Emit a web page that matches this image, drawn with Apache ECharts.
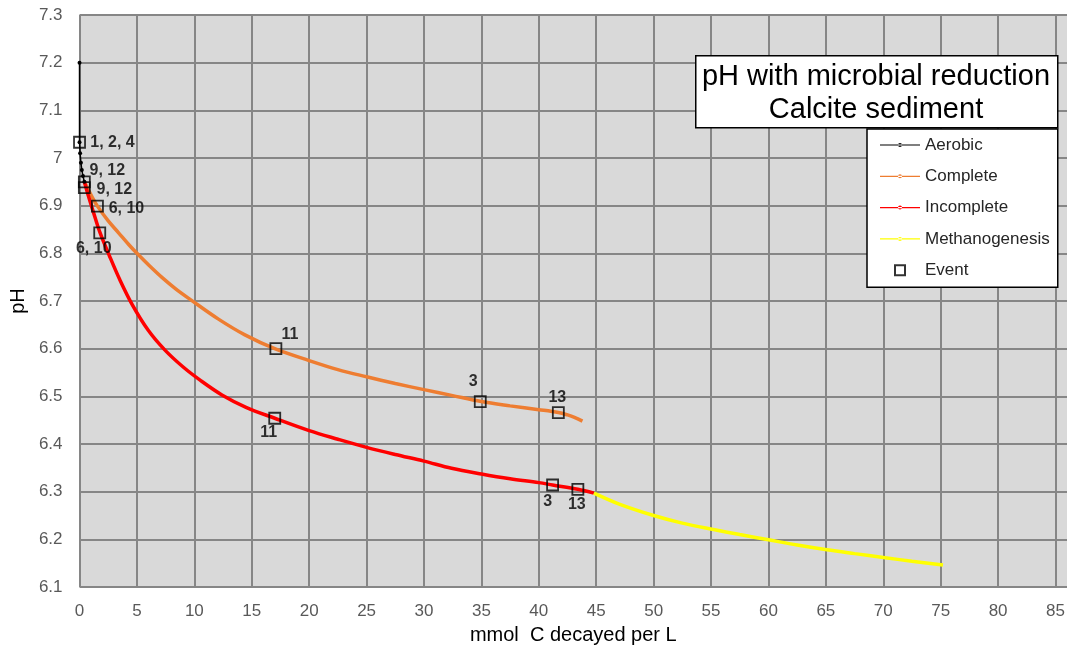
<!DOCTYPE html>
<html>
<head>
<meta charset="utf-8">
<script src="https://cdn.jsdelivr.net/npm/echarts@6/dist/echarts.min.js"></script>
<style>
  html, body { margin: 0; padding: 0; background: #fff; }
  #chart { width: 1070px; height: 650px; }
</style>
</head>
<body>
<div id="chart"></div>
<script>
// pH against organic carbon decayed (mmol C per L) for a calcite sediment

const aerobic = [
  [0, 7.2], [0, 7.033], [0.05, 7.01], [0.12, 6.99], [0.2, 6.975], [0.3, 6.962], [0.42, 6.95]
];

const complete = [
  [0.42, 6.95], [0.7, 6.937], [1.1, 6.918], [1.56, 6.899], [2.5, 6.868], [3.4, 6.843],
  [4.3, 6.818], [5, 6.800], [6, 6.776], [7.2, 6.749], [8.4, 6.725], [9.66, 6.703],
  [12.1, 6.662], [14.4, 6.629], [17, 6.600], [20, 6.575], [22.5, 6.556], [25, 6.541],
  [27.5, 6.527], [30, 6.514], [32.4, 6.502], [35, 6.489], [37.5, 6.480], [40, 6.472],
  [41.7, 6.466], [42.5, 6.461], [43.1, 6.456], [43.8, 6.448]
];

const incomplete = [
  [0.42, 6.95], [0.8, 6.918], [1.2, 6.887], [1.76, 6.845], [2.6, 6.795], [3.5, 6.745],
  [4.6, 6.692], [6.0, 6.638], [7.4, 6.598], [9.0, 6.562], [10.5, 6.534], [12.4, 6.503],
  [14.5, 6.477], [17, 6.454], [20, 6.428], [22.5, 6.41], [25, 6.393], [27.5, 6.378],
  [30, 6.364], [32.4, 6.349], [35, 6.337], [37.5, 6.327], [40, 6.319], [41.2, 6.314],
  [43.4, 6.305], [44.8, 6.297]
];

const methanogenesis = [
  [44.8, 6.297], [47, 6.274], [50, 6.250], [52.5, 6.234], [55.1, 6.221], [57.5, 6.210],
  [60, 6.199], [62.5, 6.188], [65.1, 6.178], [67.5, 6.170], [70, 6.162], [72.5, 6.154],
  [75.2, 6.146]
];

// Events marked along the curves
const eventX = [0, 0.42, 0.42, 1.56, 1.76, 17.1, 17.0, 34.9, 41.7, 41.2, 43.4];
const eventY = [7.033, 6.950, 6.938, 6.899, 6.843, 6.600, 6.454, 6.489, 6.466, 6.314, 6.305];
const eventNames = ['1, 2, 4', '9, 12', '9, 12', '6, 10', '6, 10', '11', '11', '3', '13', '3', '13'];

// Where each event label sits relative to its square (px)
const labelOffsets = [
  [33, 0], [23, -11], [30, 2], [29, 2], [-6, 16], [14, -14], [-6, 14], [-7, -20], [-1, -15], [-5, 17], [-1, 15]
];

const xMin = 0, xMax = 86, xStep = 5;
const yMin = 6.1, yMax = 7.3, yStep = 0.1;

const colors = {
  Aerobic: '#000000',
  Complete: '#EE7D31',
  Incomplete: '#FF0000',
  Methanogenesis: '#FFFF00'
};

const lineIcon = 'path://M0,1.4H40V2.6H0Z M18,2a2,2 0 1,0 4,0a2,2 0 1,0 -4,0Z';
const squareIcon = 'path://M0,0H10V10H0Z';

const eventData = eventX.map((x, i) => ({
  value: [x, eventY[i]],
  label: { offset: labelOffsets[i] }
}));

const chart = echarts.init(document.getElementById('chart'), null, { renderer: 'canvas' });

const tickFont = { fontFamily: 'Liberation Sans', fontSize: 17, color: '#595959' };

const curve = (name, data) => ({
  name, type: 'line', data, smooth: 0.35, clip: false,
  showSymbol: false, symbol: 'circle', z: 3,
  lineStyle: { color: colors[name], width: 3.5 },
  itemStyle: { color: colors[name], borderWidth: 0 }
});

chart.setOption({
  animation: false,
  backgroundColor: '#ffffff',
  grid: {
    left: 77, top: 15, right: 2, bottom: 62,
    show: true, backgroundColor: '#D9D9D9', borderWidth: 0
  },
  xAxis: {
    type: 'value', min: xMin, max: xMax, interval: xStep,
    name: 'mmol  C decayed per L', nameLocation: 'middle', nameGap: 38,
    nameTextStyle: { fontFamily: 'Liberation Sans', fontSize: 20, color: '#000' },
    axisLine: { show: false }, axisTick: { show: false },
    axisLabel: Object.assign({ margin: 16, formatter: v => (v % 5 === 0 ? String(v) : '') }, tickFont),
    splitLine: { show: true, showMaxLine: false, lineStyle: { color: '#868686', width: 2 } }
  },
  yAxis: {
    type: 'value', min: yMin, max: yMax, interval: yStep,
    name: 'pH', nameLocation: 'middle', nameGap: 47, nameRotate: 90,
    nameTextStyle: { fontFamily: 'Liberation Sans', fontSize: 20, color: '#000' },
    axisLine: { show: false }, axisTick: { show: false },
    axisLabel: Object.assign({ margin: 17, formatter: v => String(Math.round(v * 10) / 10) }, tickFont),
    splitLine: { show: true, lineStyle: { color: '#868686', width: 2 } }
  },
  legend: {
    orient: 'vertical',
    left: 867, top: 129,
    padding: [7, 8, 8, 13],
    backgroundColor: '#ffffff', borderColor: '#000000', borderWidth: 1.5, borderRadius: 0,
    itemWidth: 40, itemHeight: 10, itemGap: 13.3, itemTextGap: 5,
    textStyle: { fontFamily: 'Liberation Sans', fontSize: 17, color: '#262626', lineHeight: 18 },
    selectedMode: false,
    data: [
      { name: 'Aerobic', icon: lineIcon },
      { name: 'Complete', icon: lineIcon },
      { name: 'Incomplete', icon: lineIcon },
      { name: 'Methanogenesis', icon: lineIcon },
      { name: 'Event', icon: squareIcon }
    ]
  },
  graphic: [
    {
      type: 'rect', left: 695, top: 55, z: 10,
      shape: { width: 362, height: 72 },
      style: { fill: '#ffffff', stroke: '#000000', lineWidth: 1.5 }
    },
    {
      type: 'text', x: 876, y: 77, z: 11,
      style: { text: 'pH with microbial reduction', fontFamily: 'Liberation Sans', fontSize: 29,
               fill: '#000', align: 'center', verticalAlign: 'middle' }
    },
    {
      type: 'text', x: 876, y: 110, z: 11,
      style: { text: 'Calcite sediment', fontFamily: 'Liberation Sans', fontSize: 29,
               fill: '#000', align: 'center', verticalAlign: 'middle' }
    }
  ],
  series: [
    curve('Complete', complete),
    curve('Incomplete', incomplete),
    curve('Methanogenesis', methanogenesis),
    {
      name: 'Aerobic', type: 'line', data: aerobic, clip: false,
      showSymbol: true, symbol: 'circle', symbolSize: 4, z: 4,
      lineStyle: { color: colors.Aerobic, width: 1.5 },
      itemStyle: { color: colors.Aerobic, borderWidth: 0 }
    },
    {
      name: 'Event', type: 'scatter', data: eventData, clip: false,
      symbol: squareIcon, symbolSize: 11, z: 6,
      itemStyle: { color: 'rgba(0,0,0,0)', borderColor: '#000000', borderWidth: 1.8 },
      label: {
        show: true, position: 'inside',
        formatter: p => eventNames[p.dataIndex],
        fontFamily: 'Liberation Sans', fontSize: 16, fontWeight: 'bold', color: '#000',
        align: 'center', verticalAlign: 'middle'
      },
      emphasis: { disabled: true }
    }
  ]
});
</script>
</body>
</html>
